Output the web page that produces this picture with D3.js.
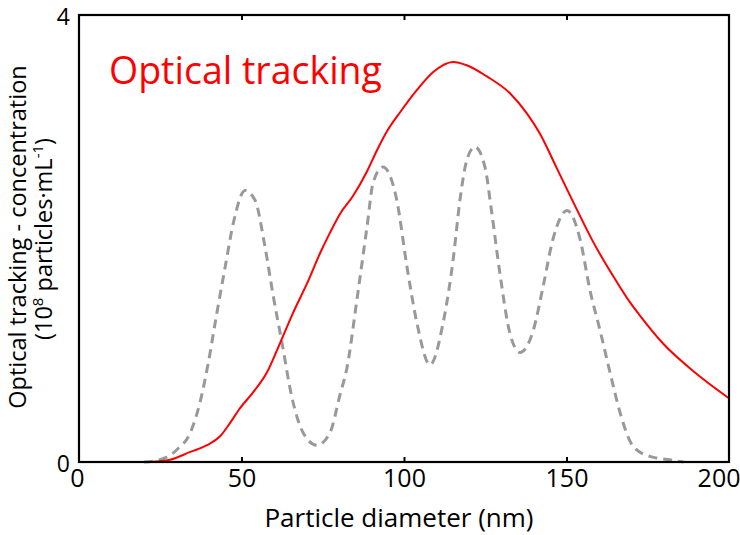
<!DOCTYPE html>
<html>
<head>
<meta charset="utf-8">
<script src="https://cdn.jsdelivr.net/npm/d3@7"></script>
<style>
  body { margin: 0; background: #fff; }
  text { font-family: "Open Sans", "Noto Sans", sans-serif; }
</style>
</head>
<body>
<svg id="chart" width="740" height="535"></svg>
<script>
const redX = [22, 28, 34.2, 39.4, 43.4, 46.5, 49.5, 53.5, 57.8, 61.8, 65.8, 70.2, 74.2, 77.2, 80.3, 84.3, 88.6, 91.7, 95, 98.8, 104, 109, 115.1, 119.3, 125.5, 132.6, 137.8, 141.8, 147, 152, 158.2, 165.5, 169.5, 172.6, 179.7, 190, 200];
const redY = [0, 0.02, 0.09, 0.15, 0.23, 0.35, 0.48, 0.62, 0.80, 1.06, 1.33, 1.60, 1.87, 2.05, 2.22, 2.38, 2.60, 2.79, 2.97, 3.13, 3.33, 3.49, 3.58, 3.55, 3.45, 3.30, 3.12, 2.94, 2.63, 2.33, 1.97, 1.61, 1.43, 1.31, 1.06, 0.79, 0.57];

const grayX = [20, 24.9, 30.1, 34.2, 37.2, 39.8, 42.4, 45, 47.5, 51.1, 54.2, 57.2, 59.8, 62.5, 65.5, 69, 73.2, 77.2, 80.3, 82.5, 85.5, 88.6, 90.5, 93.5, 97.8, 100.9, 104, 108, 112, 115.2, 117.2, 119.3, 121.8, 124.9, 127, 129.5, 132.6, 135.7, 139.8, 142.8, 145.8, 150.2, 154.2, 157.2, 160.3, 163.4, 166.5, 170.5, 175.7, 181.8, 186];
const grayY = [0, 0.02, 0.11, 0.26, 0.53, 0.89, 1.33, 1.75, 2.14, 2.43, 2.34, 1.93, 1.48, 1.06, 0.58, 0.26, 0.15, 0.26, 0.60, 0.85, 1.45, 2.10, 2.50, 2.64, 2.34, 1.75, 1.24, 0.87, 1.24, 1.83, 2.34, 2.70, 2.82, 2.64, 2.23, 1.69, 1.15, 0.98, 1.18, 1.57, 1.99, 2.25, 1.99, 1.54, 1.18, 0.80, 0.44, 0.14, 0.05, 0.02, 0];

const xTicks = [0, 50, 100, 150, 200];
const yTickLabels = [0, 4];

const svg = d3.select("#chart");
const mL = 79, mR = 729, mT = 15, mB = 462;
const x = d3.scaleLinear().domain([0, 200]).range([mL, mR]);
const y = d3.scaleLinear().domain([0, 4]).range([mB, mT]);

// curves
const line = d3.line().x(d => x(d[0])).y(d => y(d[1])).curve(d3.curveMonotoneX);
svg.append("path")
  .attr("d", line(grayX.map((v, i) => [v, grayY[i]])))
  .attr("fill", "none").attr("stroke", "#999").attr("stroke-width", 3)
  .attr("stroke-dasharray", "9,6");
svg.append("path")
  .attr("d", line(redX.map((v, i) => [v, redY[i]])))
  .attr("fill", "none").attr("stroke", "#ff0000").attr("stroke-width", 2);

// frame
svg.append("rect").attr("x", mL).attr("y", mT).attr("width", mR - mL).attr("height", mB - mT)
  .attr("fill", "none").attr("stroke", "#000").attr("stroke-width", 2.2);

// axes (ticks inward)
const xAxisB = d3.axisBottom(x).tickValues(xTicks).tickSizeInner(-5).tickSizeOuter(0).tickPadding(0).tickFormat(d3.format("d"));
const gb = svg.append("g").attr("transform", `translate(0,${mB})`).call(xAxisB);
gb.select(".domain").remove();
gb.selectAll(".tick line").attr("stroke", "#000").attr("stroke-width", 2);
gb.selectAll(".tick text").attr("font-size", 25).attr("fill", "#000").attr("y", 25).attr("dy", 0);
gb.selectAll(".tick").filter(d => d === 0 || d === 200).select("line").remove();
gb.selectAll(".tick").filter(d => d === 0).select("text").attr("x", -2);
gb.selectAll(".tick").filter(d => d === 200).select("text").attr("text-anchor", "end").attr("x", 740 - mR);

const xAxisT = d3.axisTop(x).tickValues(xTicks.slice(1, -1)).tickSizeInner(-5).tickSizeOuter(0).tickFormat("");
const gt = svg.append("g").attr("transform", `translate(0,${mT})`).call(xAxisT);
gt.select(".domain").remove();
gt.selectAll(".tick line").attr("stroke", "#000").attr("stroke-width", 2);

const yAxis = d3.axisLeft(y).tickValues(yTickLabels).tickSize(0).tickPadding(9).tickFormat(d3.format("d"));
const gl = svg.append("g").attr("transform", `translate(${mL},0)`).call(yAxis);
gl.select(".domain").remove();
gl.selectAll(".tick text").attr("font-size", 23).attr("fill", "#000").attr("dy", 9);

// labels
svg.append("text").attr("x", 399).attr("y", 527).attr("text-anchor", "middle")
  .attr("font-size", 26).attr("fill", "#000").text("Particle diameter (nm)");

const yl = svg.append("text").attr("transform", `translate(26,${237}) rotate(-90)`)
  .attr("text-anchor", "middle").attr("font-size", 23.5).attr("fill", "#000");
yl.text("Optical tracking - concentration");

const yl2 = svg.append("text").attr("transform", `translate(52,${239}) rotate(-90)`)
  .attr("text-anchor", "middle").attr("font-size", 23.5).attr("fill", "#000");
yl2.append("tspan").text("(10");
yl2.append("tspan").attr("font-size", 15).attr("dy", -9).text("8");
yl2.append("tspan").attr("dy", 9).text(" particles·mL");
yl2.append("tspan").attr("font-size", 15).attr("dy", -9).text("-1");
yl2.append("tspan").attr("dy", 9).text(")");

svg.append("text").attr("x", 109).attr("y", 84).attr("font-size", 37.5).attr("fill", "#ff0000")
  .text("Optical tracking");
</script>
</body>
</html>
